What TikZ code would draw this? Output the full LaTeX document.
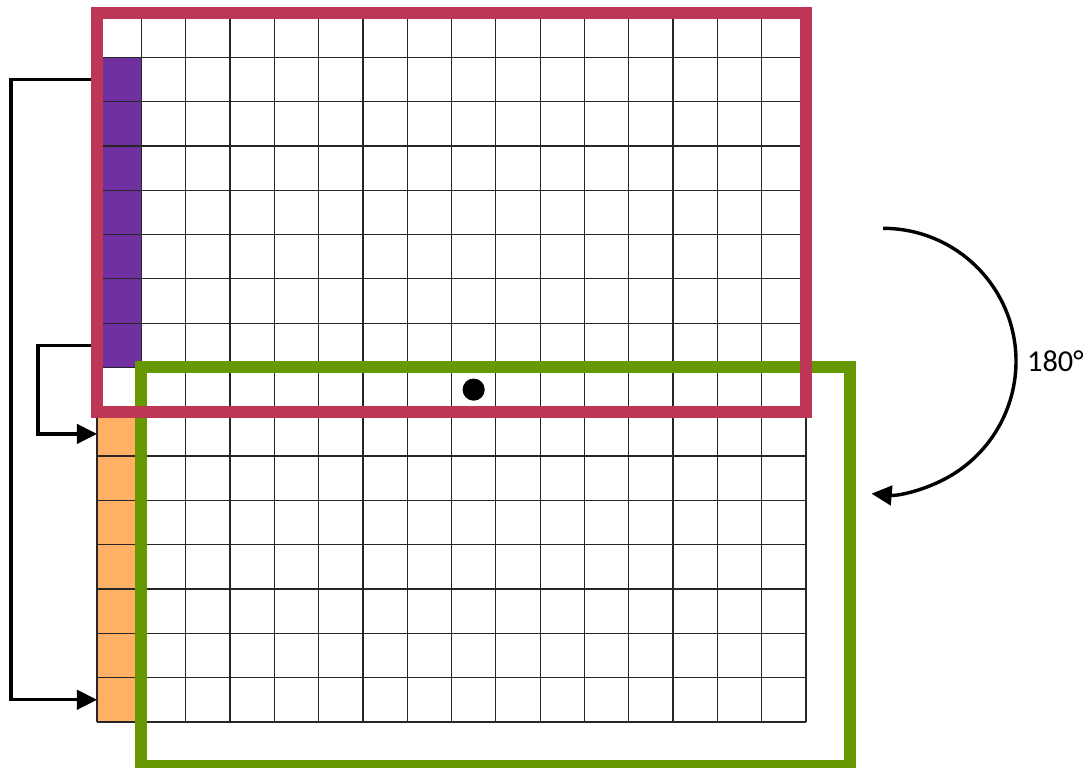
\documentclass[tikz,border=0pt]{standalone}
\usepackage{fontspec}
\setmainfont{Carlito}
\usetikzlibrary{arrows.meta}
\definecolor{frameRed}{RGB}{190,54,86}
\definecolor{frameGreen}{RGB}{102,153,0}
\definecolor{cellPurple}{RGB}{112,48,160}
\definecolor{cellOrange}{RGB}{255,176,100}
\begin{document}
\begin{tikzpicture}[x=1cm,y=1cm,line width=.8pt,
  gridline/.style={draw=black!85,line width=.8pt},
  frame/.style={line width=7.7pt},
  link/.style={line width=2.2pt,-{Triangle[length=13pt,width=12.5pt]}}]
\useasboundingbox (-2.19,0.293) rectangle (22.41,-17.02);
% coloured first column
\fill[cellPurple] (0,-1) rectangle (1,-8);
\fill[cellOrange] (0,-9) rectangle (1,-16);
\draw[gridline] (0,-16) grid (16,0);
% row moves on the left
\coordinate (rowA) at (0,-1.5);\coordinate (rowB) at (0,-15.5);
\coordinate (rowC) at (0,-7.5);\coordinate (rowD) at (0,-9.5);
\draw[link] (rowA) -- ++(-1.94,0) |- (rowB);
\draw[link] (rowC) -- ++(-1.33,0) |- (rowD);
% windows
\draw[frame,frameGreen] (1,-8) rectangle (17,-17);
\draw[frame,frameRed] (0,0) rectangle (16,-9);
\node[circle,fill=black,inner sep=0pt,minimum size=.5cm] (pivot) at (8.5,-8.5) {};
% rotation
\coordinate (turn) at (17.74,-4.86);
\draw[link] (turn) arc[start angle=90,end angle=-95,radius=3];
\node[anchor=west,font=\fontsize{19.5}{22}\selectfont] (angle) at (20.86,-7.86) {180°};
\end{tikzpicture}
\end{document}
